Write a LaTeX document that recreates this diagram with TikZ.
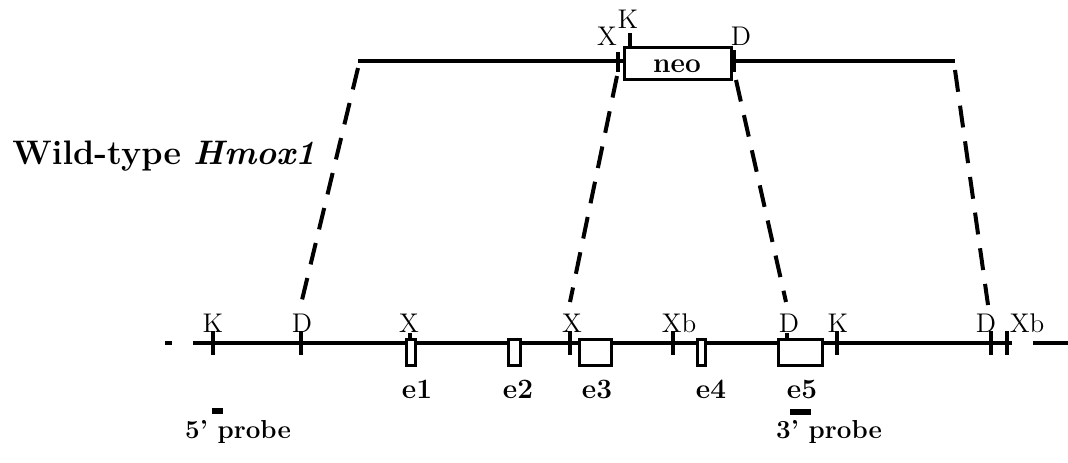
\documentclass[tikz,border=0pt]{standalone}
\usepackage{tikz}

\begin{document}
\begin{tikzpicture}[x=0.5pt,y=-0.5pt,
  dna/.style={line width=2pt},
  sitetick/.style={line width=1.6pt},
  exon/.style={draw,line width=1.5pt,fill=white,inner sep=0pt,minimum height=13pt},
  site/.style={font=\fontsize{13.5}{13.5}\selectfont,anchor=base,inner sep=0pt},
  exlab/.style={font=\fontsize{14}{14}\selectfont\bfseries,anchor=base,inner sep=0pt},
  homol/.style={dash pattern=on 11pt off 7pt,line width=2pt},
  probe/.style={fill=black,inner sep=0pt,minimum height=3pt}]
  \useasboundingbox (0,0) rectangle (1068,462);

  % --- Title ---
  \node[font=\fontsize{17}{17}\selectfont\bfseries,anchor=base west,inner sep=0pt]
    (title) at (12,164) {Wild-type \textit{Hmox1}};

  % --- Targeting construct (top) ---
  \draw[dna] (358,61) coordinate (tl) -- (955,61) coordinate (tr);
  \node[exon,minimum width=53.5pt,minimum height=16pt] (neo) at (677.5,63) {};
  \node[exlab] (neolab) at (677,72) {neo};
  \draw[sitetick] (618,52) -- (618,72);
  \draw[sitetick] (630,33) -- (630,48);
  \draw[sitetick] (734,50) -- (734,72);
  \node[site] (tx) at (607,45) {X};
  \node[site] (tk) at (628,28) {K};
  \node[site] (td) at (741,45) {D};

  % --- Wild-type locus (bottom) ---
  \draw[dna] (165,343) -- (172,343);
  \draw[dna] (193,343) -- (1012,343);
  \draw[dna] (1033,343) -- (1068,343);

  % restriction sites
  \foreach \x in {213,301,570,673,837,991,1007} {
    \draw[sitetick] (\x,331) -- (\x,355);
  }
  \foreach \x in {410,787} {
    \draw[sitetick] (\x,333) -- (\x,343);
  }
  \foreach \x/\t/\n in {213/K/k1, 302/D/d1, 409/X/x1, 572/X/x2, 679/Xb/xb1,
                        789/D/d2, 838/K/k2, 986/D/d3, 1027/Xb/xb2} {
    \node[site] (\n) at (\x,332) {\t};
  }

  % exons
  \foreach \x/\w/\n in {411/4.5/1, 514/6/2, 595/16/3, 701/4/4, 800/22/5} {
    \node[exon,minimum width=\w pt] (e\n) at (\x,352) {};
  }
  \foreach \x/\n in {417/1, 518/2, 597/3, 711/4, 802/5} {
    \node[exlab] (l\n) at (\x,398) {e\n};
  }

  % --- Homology arms ---
  \coordinate (tA) at (358,68);  \coordinate (bA) at (302,300);
  \coordinate (tB) at (617,76);  \coordinate (bB) at (570,302);
  \coordinate (tC) at (736,80);  \coordinate (bC) at (786,302);
  \coordinate (tD) at (955,70);  \coordinate (bD) at (988,305);
  \foreach \a in {A,B,C,D} {
    \draw[homol] (t\a) -- (b\a);
  }

  % --- Probes ---
  \node[probe,minimum width=5.5pt] (p5) at (217.5,410.5) {};
  \node[probe,minimum width=10.5pt] (p3) at (800.5,411.5) {};
  \node[exlab,font=\fontsize{13}{13}\selectfont\bfseries] (p5lab) at (238,438) {5' probe};
  \node[exlab,font=\fontsize{13}{13}\selectfont\bfseries] (p3lab) at (829,438) {3' probe};
\end{tikzpicture}
\end{document}
